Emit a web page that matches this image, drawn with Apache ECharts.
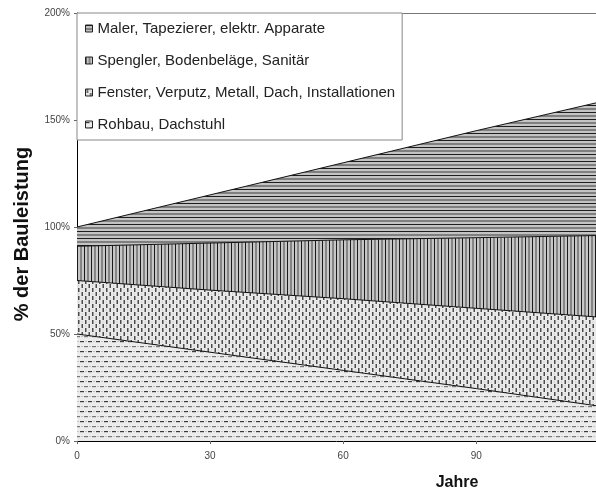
<!DOCTYPE html>
<html>
<head>
<meta charset="utf-8">
<script src="https://cdn.jsdelivr.net/npm/echarts@6/dist/echarts.min.js"></script>
<style>html,body{margin:0;padding:0;background:#fff}#c{width:596px;height:494px}</style>
</head>
<body>
<div id="c"></div>
<script>
// Data: years and share of construction output (%)
const years    = [0, 30, 60, 90, 117];
const rohbau   = [50, 41.5, 33, 24.5, 16.5];
const fenster  = [25, 29, 33.5, 37.5, 41.5];
const spengler = [16, 22, 27.5, 33, 38];
const maler    = [9, 22.5, 36, 50, 62];
const seriesNames = [
  'Rohbau, Dachstuhl',
  'Fenster, Verputz, Metall, Dach, Installationen',
  'Spengler, Bodenbeläge, Sanitär',
  'Maler, Tapezierer, elektr. Apparate'
];
const yTicks = [0, 50, 100, 150, 200];
const xTicks = [0, 30, 60, 90];

function pat(w, h, bg, draw) {
  const c = document.createElement('canvas');
  c.width = w; c.height = h;
  const g = c.getContext('2d');
  g.fillStyle = bg; g.fillRect(0, 0, w, h);
  draw(g);
  return c;
}
const pMaler = pat(4, 7, '#c4c4c4', g => {
  g.fillStyle = '#1e1e1e'; g.fillRect(0, 0, 4, 1); 
  g.fillStyle = '#3a3a3a'; g.fillRect(0, 3.5, 4, 1);
});
const pSpengler = pat(7, 4, '#c6c6c6', g => {
  g.fillStyle = '#1a1a1a'; g.fillRect(0, 0, 1, 4);
  g.fillStyle = '#444'; g.fillRect(3.5, 0, 1, 4);
});
const pFenster = pat(7, 8, '#eaeaea', g => {
  g.fillStyle = '#4a4a4a'; g.fillRect(1, 0, 1.5, 4); g.fillRect(4.5, 4, 1.5, 4);
  g.fillStyle = '#bdbdbd'; g.fillRect(4.5, 1.5, 1, 1); g.fillRect(1, 5.5, 1, 1);
});
const pRohbau = pat(8, 10, '#ececec', g => {
  g.fillStyle = '#3c3c3c'; g.fillRect(0, 1, 4, 1.2);
  g.fillStyle = '#777'; g.fillRect(4, 6, 4, 1.2);
  g.fillStyle = '#c4c4c4'; g.fillRect(5, 1, 2, 1); g.fillRect(1, 6, 2, 1);
});
const patterns = [pRohbau, pFenster, pSpengler, pMaler];
const values = [rohbau, fenster, spengler, maler];

const chart = echarts.init(document.getElementById('c'));
// value first, year second, so that the stack is applied to the value (y) dimension
const series = values.map((v, i) => ({
  name: seriesNames[i],
  type: 'line',
  stack: 'total',
  symbol: 'none',
  dimensions: ['share', 'year'],
  encode: { x: 'year', y: 'share' },
  data: years.map((y, k) => [v[k], y]),
  lineStyle: { color: '#111', width: 1 },
  itemStyle: { color: { image: patterns[i], repeat: 'repeat' }, borderColor: '#222', borderWidth: 1 },
  areaStyle: { color: { image: patterns[i], repeat: 'repeat' }, opacity: 1 },
  emphasis: { disabled: true },
  silent: true
}));

chart.setOption({
  animation: false,
  backgroundColor: '#fff',
  grid: { left: 77, top: 13, right: 0, bottom: 53, containLabel: false },
  legend: {
    orient: 'vertical',
    left: 77, top: 13,
    padding: [8, 7, 8, 8],
    itemGap: 17,
    itemWidth: 7, itemHeight: 7,
    icon: 'rect',
    backgroundColor: '#fff',
    borderColor: '#888', borderWidth: 1,
    textStyle: { fontFamily: 'Liberation Sans, Arial', fontSize: 15, color: '#222' },
    data: seriesNames.slice().reverse().map((n) => {
      const i = seriesNames.indexOf(n);
      return { name: n, itemStyle: { color: { image: patterns[i], repeat: 'repeat' }, borderColor: '#222', borderWidth: 1 } };
    }),
    selectedMode: false,
    z: 10
  },
  xAxis: [{
    type: 'value', min: 0, max: 117, interval: 30,
    axisLine: { show: true, lineStyle: { color: '#000', width: 1 } },
    axisTick: { show: true, length: 3, lineStyle: { color: '#666' } },
    splitLine: { show: false },
    axisLabel: {
      showMaxLabel: false, margin: 10,
      fontFamily: 'Liberation Sans, Arial', fontSize: 10, color: '#444',
      formatter: v => xTicks.includes(v) ? String(v) : ''
    }
  }, {
    type: 'value', position: 'top', min: 0, max: 117,
    axisLine: { show: true, lineStyle: { color: '#777', width: 1 } },
    axisTick: { show: false }, axisLabel: { show: false }, splitLine: { show: false }
  }],
  yAxis: {
    type: 'value', min: 0, max: 200, interval: 50,
    axisLine: { show: true, lineStyle: { color: '#000', width: 1 } },
    axisTick: { show: true, length: 3, lineStyle: { color: '#666' } },
    splitLine: { show: false },
    axisLabel: {
      margin: 7,
      fontFamily: 'Liberation Sans, Arial', fontSize: 10, color: '#444',
      formatter: v => yTicks.includes(v) ? v + '%' : ''
    }
  },
  graphic: [{
    type: 'text', x: 22, y: 234, rotation: Math.PI / 2,
    style: { text: '% der Bauleistung', align: 'center', verticalAlign: 'middle',
             fontFamily: 'Liberation Sans, Arial', fontSize: 20, fontWeight: 'bold', fill: '#111' }
  }, {
    type: 'text', x: 457, y: 483,
    style: { text: 'Jahre', align: 'center', verticalAlign: 'middle',
             fontFamily: 'Liberation Sans, Arial', fontSize: 16, fontWeight: 'bold', fill: '#111' }
  }],
  series: series
});
</script>
</body>
</html>
